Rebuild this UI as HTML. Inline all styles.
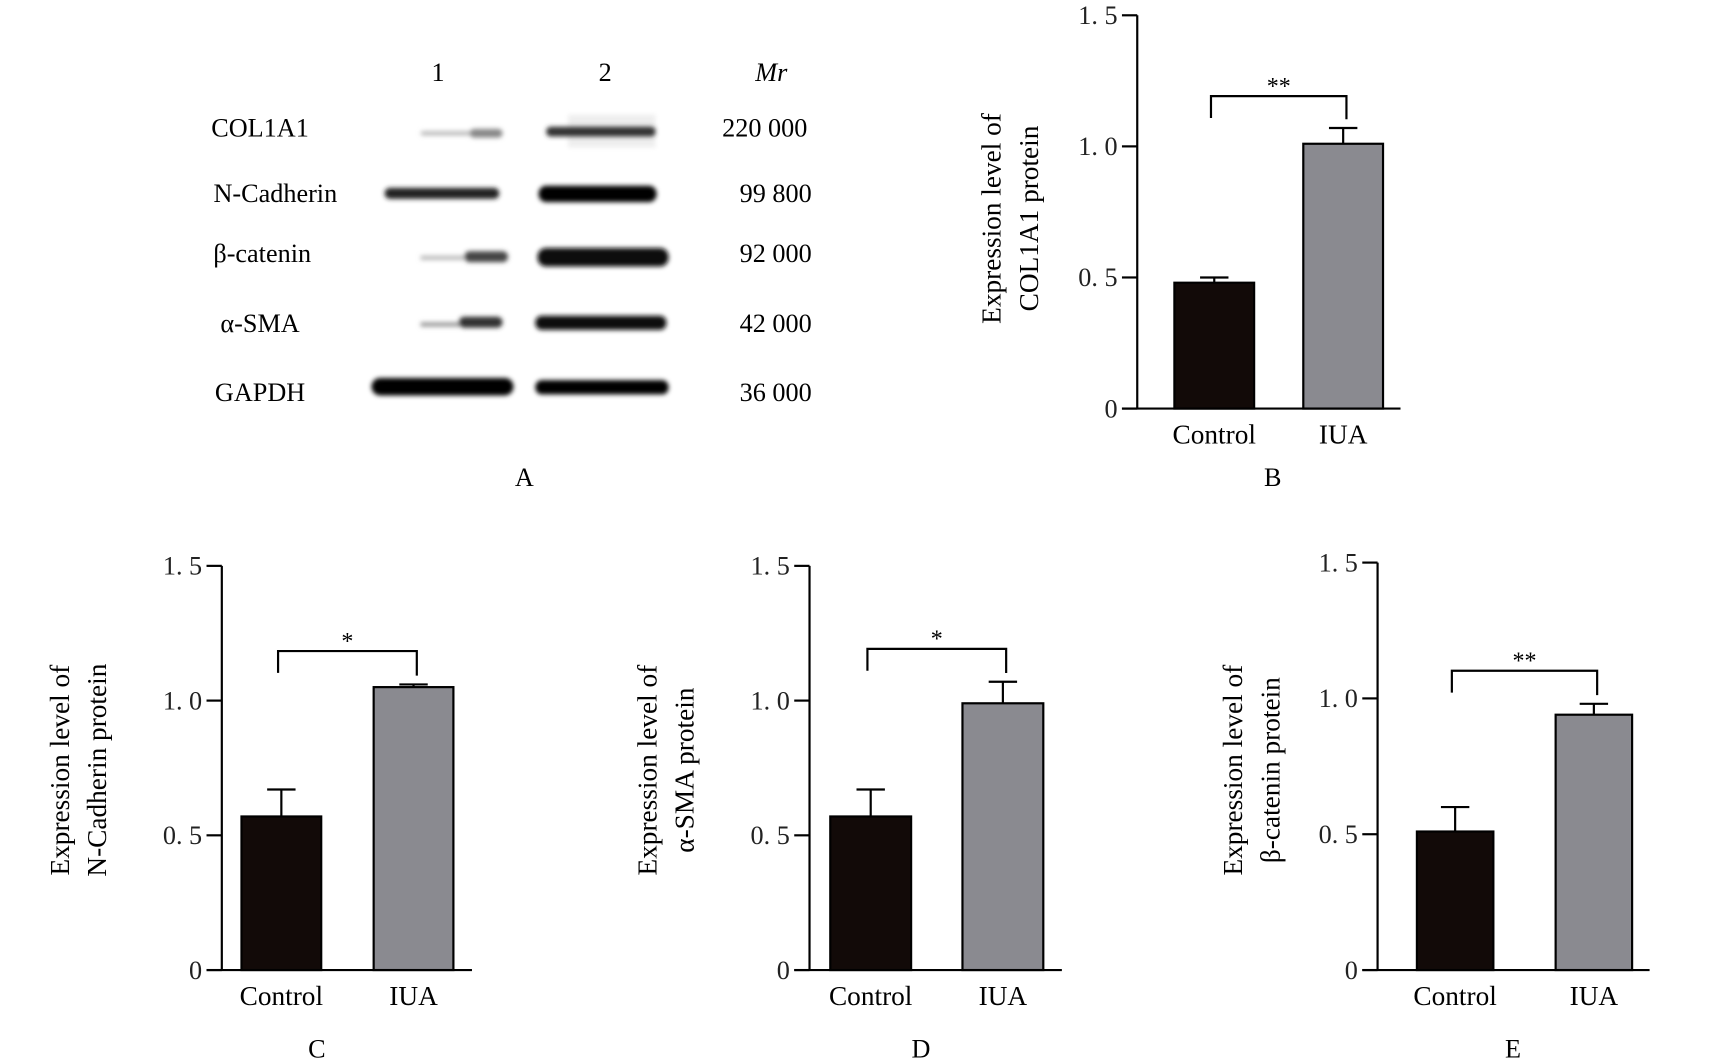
<!DOCTYPE html>
<html><head><meta charset="utf-8"><style>
html,body{margin:0;padding:0;background:#fff;}
svg{display:block;font-family:"Liberation Serif",serif;}
</style></head><body>
<svg id="fig" width="1713" height="1064" viewBox="0 0 1568 974" xmlns="http://www.w3.org/2000/svg">
<defs>
<filter id="blur" x="-10%" y="-100%" width="120%" height="300%"><feGaussianBlur stdDeviation="2.2"/></filter>
</defs>
<g id="blot">
<text x="401" y="74" font-size="24" text-anchor="middle">1</text>
<text x="554" y="74" font-size="24" text-anchor="middle">2</text>
<text x="706" y="74" font-size="24" text-anchor="middle" font-style="italic">Mr</text>
<g font-size="24" text-anchor="middle">
<text x="238" y="125">COL1A1</text>
<text x="252" y="185">N-Cadherin</text>
<text x="240" y="240">β-catenin</text>
<text x="238" y="304">α-SMA</text>
<text x="238" y="367">GAPDH</text>
<text x="700" y="125">220 000</text>
<text x="710" y="185">99 800</text>
<text x="710" y="240">92 000</text>
<text x="710" y="304">42 000</text>
<text x="710" y="367">36 000</text>
</g>
<rect x="520" y="105" width="80" height="30" fill="#eee" filter="url(#blur)"/>
<g filter="url(#blur)">
<rect x="385" y="120" width="75" height="4" rx="2" fill="#bbb"/><rect x="430" y="118" width="30" height="8" rx="4" fill="#888"/>
<rect x="500" y="116" width="100" height="9" rx="4" fill="#333"/>
<rect x="352" y="172" width="105" height="10" rx="5" fill="#222"/>
<rect x="493" y="170" width="108" height="15" rx="7" fill="#000"/>
<rect x="385" y="234" width="80" height="4" fill="#bbb"/><rect x="425" y="230" width="40" height="10" rx="5" fill="#444"/>
<rect x="492" y="227" width="120" height="17" rx="8" fill="#0a0a0a"/>
<rect x="385" y="295" width="70" height="4" fill="#999"/><rect x="420" y="290" width="40" height="10" rx="5" fill="#333"/>
<rect x="490" y="289" width="120" height="13" rx="6" fill="#111"/>
<rect x="340" y="346" width="130" height="16" rx="8" fill="#000"/>
<rect x="490" y="348" width="122" height="13" rx="6" fill="#000"/>
</g>
<text x="480" y="445" font-size="24" text-anchor="middle">A</text>
</g>
<g id="charts"></g>
</svg>
<script>
const categories = ["Control","IUA"];
const valuesB = [0.48, 1.01], errB = [0.02, 0.06];
const valuesC = [0.57, 1.05], errC = [0.10, 0.01];
const valuesD = [0.57, 0.99], errD = [0.10, 0.08];
const valuesE = [0.51, 0.94], errE = [0.09, 0.04];
const yTicks = [0, 0.5, 1.0, 1.5];
const tickLabels = ["0","0. 5","1. 0","1. 5"];
const sigB = "**", sigC = "*", sigD = "*", sigE = "**";

const NS = "http://www.w3.org/2000/svg";
const root = document.getElementById("charts");
function mk(tag, attrs, parent, text){
  const e = document.createElementNS(NS, tag);
  for (const k in attrs) e.setAttribute(k, attrs[k]);
  if (text !== undefined) e.textContent = text;
  parent.appendChild(e);
  return e;
}
function chart(cfg){
  const g = mk("g", {}, root);
  
  
  const y = v => cfg.y0 - (v / 1.5) * (cfg.y0 - cfg.y15);
  const ax = mk("g", {stroke:"#000","stroke-width":2}, g);
  
  
  mk("line", {x1:cfg.ax, y1:cfg.y15, x2:cfg.ax, y2:cfg.y0}, ax);
  mk("line", {x1:cfg.ax - 14, y1:cfg.y0, x2:cfg.xEnd, y2:cfg.y0}, ax);
  yTicks.forEach((t,i)=>{
    mk("line", {x1:cfg.ax - 14, y1:y(t), x2:cfg.ax, y2:y(t)}, ax);
    const tl = mk("text", {x:cfg.ax - 18, y:y(t)+8, "font-size":24, "text-anchor":"end", fill:"#222"}, g, tickLabels[i]);
    
    
  });
  const fills = ["#120a08", "#8a8a90"];
  const centers = [];
  categories.forEach((c,i)=>{
    const bx = cfg.bars[i], bw = cfg.bw;
    const cx = bx + bw/2; centers.push(cx);
    const v = cfg.vals[i], e = cfg.errs[i];
    mk("line", {x1:cx, y1:y(v+e), x2:cx, y2:y(v), stroke:"#000","stroke-width":2}, g);
    mk("line", {x1:cx-13, y1:y(v+e), x2:cx+13, y2:y(v+e), stroke:"#000","stroke-width":2}, g);
    const r = mk("rect", {x:bx, y:y(v), width:bw, height:cfg.y0 - y(v), fill:fills[i], stroke:"#000","stroke-width":2}, g);
    
    
    const xl = mk("text", {x:cx, y:cfg.y0 + 32, "font-size":25, "text-anchor":"middle"}, g, c);
    
    
  });
  const by = cfg.brY;
  const l = centers[0] - 3, rr = centers[1] + 3;
  const br = mk("polyline", {points:`${l},${by+20} ${l},${by} ${rr},${by} ${rr},${y(cfg.vals[1]+cfg.errs[1])-8}`, fill:"none", stroke:"#000","stroke-width":2}, g);
  
  
  const st = mk("text", {x:(l+rr)/2, y:by - 2, "font-size":22, "text-anchor":"middle"}, g, cfg.sig);
  
  
  const yt = mk("text", {transform:`translate(${cfg.ylx},${cfg.ylc}) rotate(-90)`, "font-size":25, "text-anchor":"middle"}, g);
  
  
  mk("tspan", {x:0, y:0}, yt, "Expression level of");
  mk("tspan", {x:0, y:34}, yt, cfg.protein + " protein");
  const pl = mk("text", {x:cfg.plx, y:cfg.ply, "font-size":24, "text-anchor":"middle"}, g, cfg.letter);
  
  
}
chart({name:"chart-col1a1", ax:1041, y0:374, y15:14, xEnd:1282, bars:[1075,1193], bw:73, vals:valuesB, errs:errB, brY:88, sig:sigB, ylx:916, ylc:200, protein:"COL1A1", letter:"B", plx:1165, ply:445});
chart({name:"chart-n-cadherin", ax:203, y0:888, y15:518, xEnd:432, bars:[221,342], bw:73, vals:valuesC, errs:errC, brY:596, sig:sigC, ylx:63, ylc:705, protein:"N-Cadherin", letter:"C", plx:290, ply:968});
chart({name:"chart-alpha-sma", ax:741, y0:888, y15:518, xEnd:972, bars:[760,881], bw:74, vals:valuesD, errs:errD, brY:594, sig:sigD, ylx:601, ylc:705, protein:"α-SMA", letter:"D", plx:843, ply:968});
chart({name:"chart-beta-catenin", ax:1261, y0:888, y15:515, xEnd:1510, bars:[1297,1424], bw:70, vals:valuesE, errs:errE, brY:614, sig:sigE, ylx:1137, ylc:705, protein:"β-catenin", letter:"E", plx:1385, ply:968});
</script>
</body></html>
